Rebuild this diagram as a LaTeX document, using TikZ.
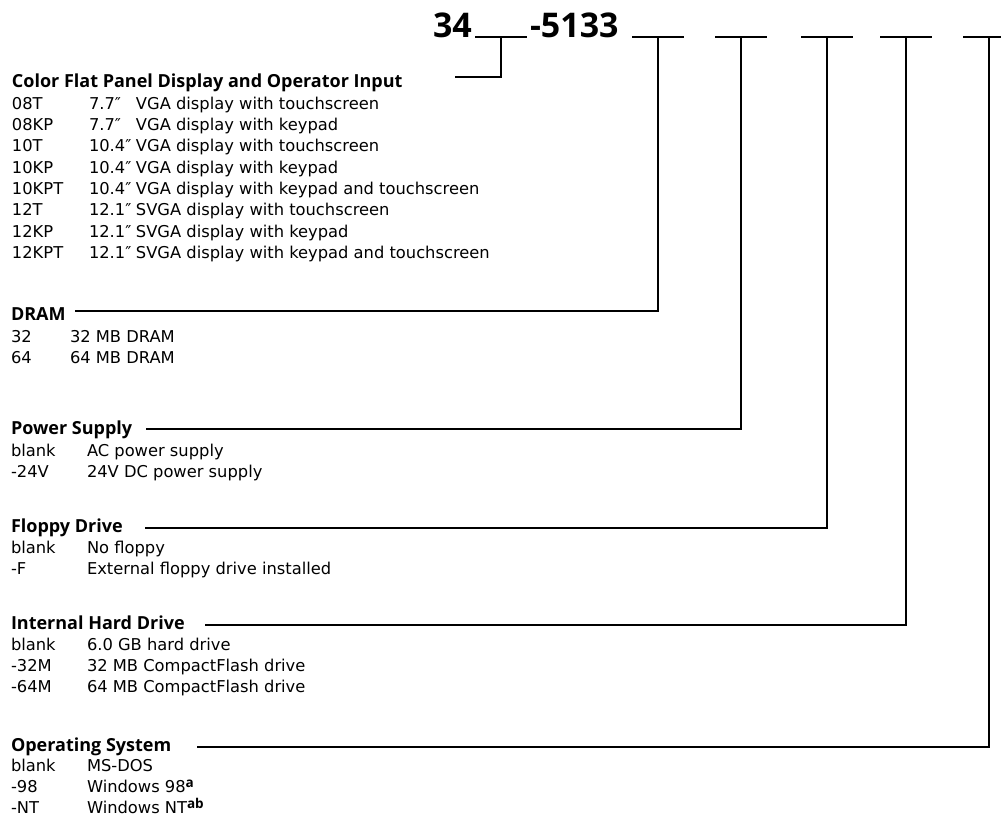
\documentclass[tikz,border=0pt]{standalone}
\usepackage{fontspec}
\setmainfont{DejaVu Sans}
\newfontfamily\headfont{Open Sans}
\newcommand{\szbox}[1]{\makebox[47pt][l]{#1}}
\newcommand{\supx}[1]{\raisebox{5pt}{\headfont\fontsize{13.5}{13.5}\selectfont\bfseries #1}}
\begin{document}
\begin{tikzpicture}[x=1pt,y=-1pt,
  txt/.style={inner sep=0pt, outer sep=0pt, anchor=base west, font=\fontsize{16.3}{19}\selectfont},
  head/.style={txt, font=\headfont\fontsize{18}{21}\selectfont\bfseries},
  big/.style={inner sep=0pt, outer sep=0pt, anchor=base west, font=\headfont\fontsize{34}{40}\selectfont\bfseries},
  conn/.style={line width=1.7pt, line cap=rect},
  blank/.style={line width=1.7pt}]
\useasboundingbox (0,0) rectangle (1001,817);

% part number
\node[big] (n34) at (433,37) {34};
\node[big] (n5133) at (530,37) {-5133};
\foreach \i/\x in {0/501,1/658,2/741,3/827,4/906,5/989}{
  \coordinate (b\i) at (\x,37);
  \draw[blank] ([xshift=-26pt]b\i) -- ([xshift=26pt]b\i);
}

% Color flat panel
\node[head] (h0) at (12,87) {Color Flat Panel Display and Operator Input};
\foreach \k/\c/\s/\d in {0/08T/7.7″/VGA display with touchscreen,
  1/08KP/7.7″/VGA display with keypad,
  2/10T/10.4″/VGA display with touchscreen,
  3/10KP/10.4″/VGA display with keypad,
  4/10KPT/10.4″/VGA display with keypad and touchscreen,
  5/12T/12.1″/SVGA display with touchscreen,
  6/12KP/12.1″/SVGA display with keypad,
  7/12KPT/12.1″/SVGA display with keypad and touchscreen}{
  \node[txt] (c0\k) at (12,{109+21.35*\k}) {\c};
  \node[txt] (d0\k) at (89,{109+21.35*\k}) {\szbox{\s}\d};
}
\coordinate (l0) at (456,77);
\draw[conn] (l0) -| (b0);

% DRAM
\node[head] (h1) at (11,320) {DRAM};
\node[txt] (c10) at (11,342) {32};
\node[txt] (d10) at (70,342) {32 MB DRAM};
\node[txt] (c11) at (11,363) {64};
\node[txt] (d11) at (70,363) {64 MB DRAM};
\coordinate (l1) at (76,311);
\draw[conn] (l1) -| (b1);

% Power supply
\node[head] (h2) at (11,434) {Power Supply};
\node[txt] (c20) at (11,456) {blank};
\node[txt] (d20) at (87,456) {AC power supply};
\node[txt] (c21) at (11,477) {-24V};
\node[txt] (d21) at (87,477) {24V DC power supply};
\coordinate (l2) at (147,429);
\draw[conn] (l2) -| (b2);

% Floppy
\node[head] (h3) at (11,532) {Floppy Drive};
\node[txt] (c30) at (11,553) {blank};
\node[txt] (d30) at (87,553) {No floppy};
\node[txt] (c31) at (11,574) {-F};
\node[txt] (d31) at (87,574) {External floppy drive installed};
\coordinate (l3) at (146,528);
\draw[conn] (l3) -| (b3);

% Hard drive
\node[head] (h4) at (11,629) {Internal Hard Drive};
\node[txt] (c40) at (11,650) {blank};
\node[txt] (d40) at (87,650) {6.0 GB hard drive};
\node[txt] (c41) at (11,671) {-32M};
\node[txt] (d41) at (87,671) {32 MB CompactFlash drive};
\node[txt] (c42) at (11,692) {-64M};
\node[txt] (d42) at (87,692) {64 MB CompactFlash drive};
\coordinate (l4) at (206,625);
\draw[conn] (l4) -| (b4);

% OS
\node[head] (h5) at (11,751) {Operating System};
\node[txt] (c50) at (11,771) {blank};
\node[txt] (d50) at (87,771) {MS-DOS};
\node[txt] (c51) at (11,792) {-98};
\node[txt] (d51) at (87,792) {Windows 98\supx{a}};
\node[txt] (c52) at (11,813) {-NT};
\node[txt] (d52) at (87,813) {Windows NT\supx{ab}};
\coordinate (l5) at (198,747);
\draw[conn] (l5) -| (b5);
\end{tikzpicture}
\end{document}
